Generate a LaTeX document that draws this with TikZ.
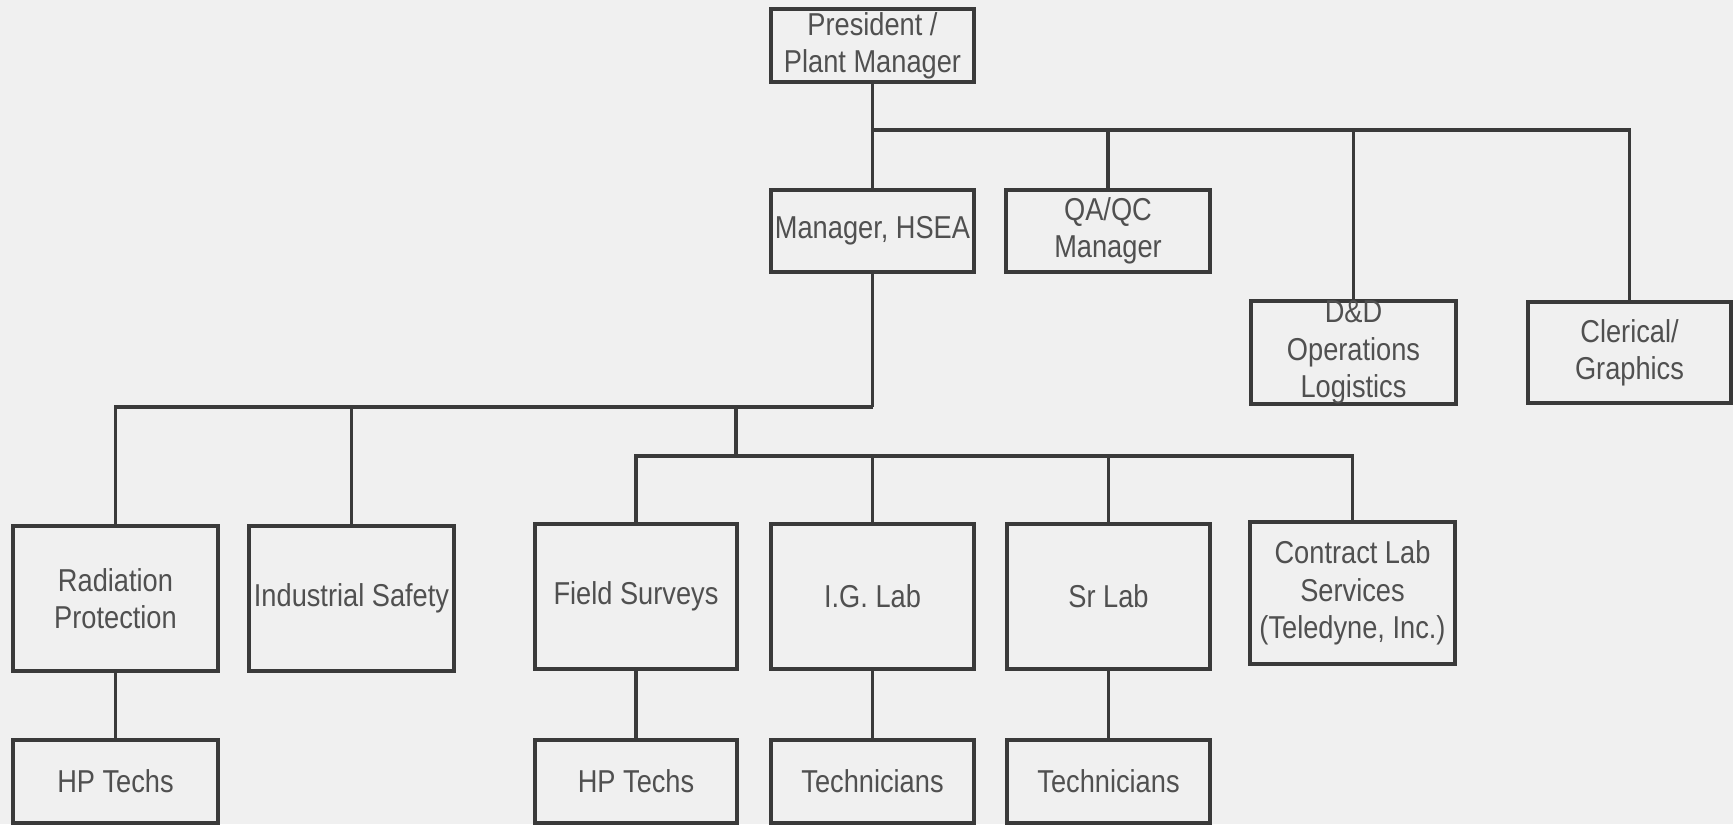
\documentclass[tikz,border=0pt]{standalone}
\usepackage{fontspec}
\setmainfont[FakeStretch=0.86]{Liberation Sans}
\definecolor{bg}{HTML}{F0F0F0}
\definecolor{ln}{HTML}{3A3A3A}
\definecolor{tx}{HTML}{505050}
\begin{document}
\begin{tikzpicture}[x=0.01cm,y=-0.01cm,
  box/.style={draw=ln,line width=0.9pt,rectangle,inner sep=0pt,align=center,
    text=tx,font=\fontsize{9}{10.6}\selectfont},
  link/.style={draw=ln,line width=0.9pt}]
\fill[bg] (0,0) rectangle (1733,824);
\useasboundingbox (0,0) rectangle (1733,824);
% boxes
\node[box,minimum width=2.03cm,minimum height=0.73cm] (pres) at (872.5,45.5) {President /\\Plant Manager};
\node[box,minimum width=2.03cm,minimum height=0.82cm] (hsea) at (872.5,231) {Manager, HSEA};
\node[box,minimum width=2.04cm,minimum height=0.82cm] (qa) at (1108,231) {QA/QC\\Manager};
\node[box,minimum width=2.05cm,minimum height=1.01cm] (dd) at (1353.5,352.5) {D\&D\\Operations\\Logistics};
\node[box,minimum width=2.03cm,minimum height=1.01cm] (cler) at (1629.5,352.5) {Clerical/\\Graphics};
\node[box,minimum width=2.05cm,minimum height=1.45cm] (rad) at (115.5,598.5) {Radiation\\Protection};
\node[box,minimum width=2.05cm,minimum height=1.45cm] (ind) at (351.5,598.5) {Industrial Safety};
\node[box,minimum width=2.02cm,minimum height=1.45cm] (field) at (636,596.5) {Field Surveys};
\node[box,minimum width=2.03cm,minimum height=1.45cm] (ig) at (872.5,596.5) {I.G. Lab};
\node[box,minimum width=2.03cm,minimum height=1.45cm] (sr) at (1108.5,596.5) {Sr Lab};
\node[box,minimum width=2.05cm,minimum height=1.42cm] (con) at (1352.5,593) {Contract Lab\\Services\\(Teledyne, Inc.)};
\node[box,minimum width=2.05cm,minimum height=0.83cm] (hp1) at (115.5,781.5) {HP Techs};
\node[box,minimum width=2.02cm,minimum height=0.83cm] (hp2) at (636,781.5) {HP Techs};
\node[box,minimum width=2.03cm,minimum height=0.83cm] (t1) at (872.5,781.5) {Technicians};
\node[box,minimum width=2.03cm,minimum height=0.83cm] (t2) at (1108.5,781.5) {Technicians};
% bus points
\coordinate (b1) at (872.5,130);
\coordinate (b2) at (872.5,407);
\coordinate (b3) at (736,456);
% connectors
\draw[link] (pres) -- (hsea);
\draw[link] (b1) -| (qa.north);
\draw[link] (b1) -| (dd.north);
\draw[link] (b1) -| (cler.north);
\draw[link] (hsea.south) -- (b2);
\draw[link] (b2) -| (rad.north);
\draw[link] (b2) -| (ind.north);
\draw[link] (b2) -| (b3);
\draw[link] (b3) -| (field.north);
\draw[link] (b3) -| (ig.north);
\draw[link] (b3) -| (sr.north);
\draw[link] (b3) -| (con.north);
\draw[link] (rad) -- (hp1);
\draw[link] (field) -- (hp2);
\draw[link] (ig) -- (t1);
\draw[link] (sr) -- (t2);
\end{tikzpicture}
\end{document}
